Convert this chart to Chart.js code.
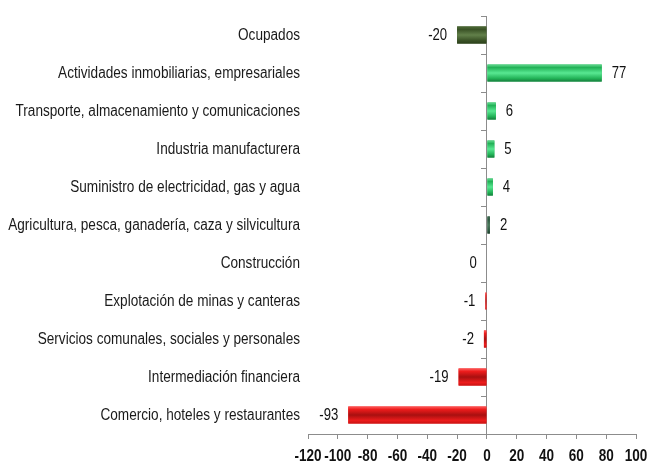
<!DOCTYPE html>
<html><head><meta charset="utf-8">
<script src="https://cdn.jsdelivr.net/npm/chart.js@4"></script>
<style>html,body{margin:0;padding:0;background:#fff}#wrap{width:649px;height:466px}</style>
</head><body><div id="wrap"><canvas id="c"></canvas></div>
<script>
const categories = [
  "Ocupados",
  "Actividades inmobiliarias, empresariales",
  "Transporte, almacenamiento y comunicaciones",
  "Industria manufacturera",
  "Suministro de electricidad, gas y agua",
  "Agricultura, pesca, ganadería, caza y silvicultura",
  "Construcción",
  "Explotación de minas y canteras",
  "Servicios comunales, sociales y personales",
  "Intermediación financiera",
  "Comercio, hoteles y restaurantes"
];
const values = [-20, 77, 6, 5, 4, 2, 0, -1, -2, -19, -93];
const xTicks = [-120, -100, -80, -60, -40, -20, 0, 20, 40, 60, 80, 100];

const FONT = "'Liberation Sans', Arial, sans-serif";

function palette(i, v) {
  if (i === 0) return {main: '#3a5226', center: '#62804a', edge: '#4d6a36', dark: '#2c401b'};
  if (i === 5) return {main: '#2f5a41', center: '#4c7a5d', edge: '#3f6b50', dark: '#1f3f2c'};
  if (v > 0) return {main: '#22b257', center: '#58e892', edge: '#66da92', dark: '#167c3c'};
  return {main: '#ec1c1c', center: '#a81010', edge: '#ff5a5a', dark: '#c81414'};
}

function narrowText(ctx, text, x, y, align, sx) {
  ctx.save();
  ctx.translate(x, y);
  ctx.scale(sx, 1);
  ctx.textAlign = align;
  ctx.fillText(text, 0, 0);
  ctx.restore();
}

const gradPlugin = {
  id: 'gradBars',
  afterDatasetsDraw(chart) {
    const ctx = chart.ctx;
    const meta = chart.getDatasetMeta(0);
    meta.data.forEach((el, i) => {
      const p = el.getProps(['x', 'y', 'base', 'height'], true);
      const v = values[i];
      if (v === 0) return;
      const c = palette(i, v);
      const top = p.y - p.height / 2, bot = p.y + p.height / 2;
      const g = ctx.createLinearGradient(0, top, 0, bot);
      g.addColorStop(0, c.edge);
      g.addColorStop(0.18, c.main);
      g.addColorStop(0.5, c.center);
      g.addColorStop(0.82, c.main);
      g.addColorStop(1, c.dark);
      const x1 = Math.min(p.x, p.base), x2 = Math.max(p.x, p.base);
      ctx.save();
      ctx.fillStyle = g;
      ctx.fillRect(x1, top, x2 - x1, bot - top);
      ctx.restore();
    });
  },
  afterDraw(chart) {
    const ctx = chart.ctx;
    const meta = chart.getDatasetMeta(0);
    const xs = chart.scales.x, ys = chart.scales.y;
    const area = chart.chartArea;
    ctx.save();
    ctx.textBaseline = 'middle';
    // value labels
    ctx.font = "16px " + FONT;
    ctx.fillStyle = '#111';
    meta.data.forEach((el, i) => {
      const p = el.getProps(['x', 'y'], true);
      const v = values[i];
      if (v > 0) narrowText(ctx, String(v), p.x + 10, p.y + 1, 'left', 0.82);
      else narrowText(ctx, String(v), p.x - 10, p.y + 1, 'right', 0.82);
    });
    // category labels
    ctx.font = "16px " + FONT;
    ctx.fillStyle = '#1a1a1a';
    categories.forEach((c, i) => {
      narrowText(ctx, c, area.left - 8, ys.getPixelForValue(i) + 1, 'right', 0.85);
    });
    // x tick labels
    ctx.font = "bold 16.5px " + FONT;
    ctx.fillStyle = '#111';
    xTicks.forEach(v => {
      narrowText(ctx, String(v), xs.getPixelForValue(v), area.bottom + 22, 'center', 0.82);
    });
    ctx.restore();
  }
};

new Chart(document.getElementById('c'), {
  type: 'bar',
  data: {
    labels: categories,
    datasets: [{
      data: values,
      backgroundColor: values.map((v, i) => palette(i, v).main),
      borderWidth: 0,
      categoryPercentage: 1,
      barPercentage: 0.45
    }]
  },
  options: {
    indexAxis: 'y',
    responsive: true,
    maintainAspectRatio: false,
    animation: false,
    layout: {padding: {top: 16, right: 13, bottom: 0, left: 0}},
    plugins: {legend: {display: false}, tooltip: {enabled: false}},
    scales: {
      x: {
        type: 'linear',
        min: -120, max: 100,
        afterBuildTicks(s) { s.ticks = xTicks.map(v => ({value: v})); },
        afterFit(s) { s.height = 32; },
        grid: {drawOnChartArea: false, drawTicks: true, tickLength: 5, color: '#8c8c8c'},
        border: {display: true, color: '#8c8c8c'},
        ticks: {display: false}
      },
      y: {
        type: 'category',
        position: 'left',
        afterFit(s) { s.width = 308; },
        grid: {display: false, drawTicks: false},
        border: {display: false},
        ticks: {display: false}
      },
      y2: {
        type: 'category',
        axis: 'y',
        labels: categories,
        position: {x: 0},
        offset: true,
        grid: {display: true, drawOnChartArea: false, drawTicks: true, tickLength: 5, color: '#8c8c8c', offset: true},
        border: {display: true, color: '#8c8c8c'},
        ticks: {display: false}
      }
    }
  },
  plugins: [gradPlugin]
});
</script>
</body></html>
